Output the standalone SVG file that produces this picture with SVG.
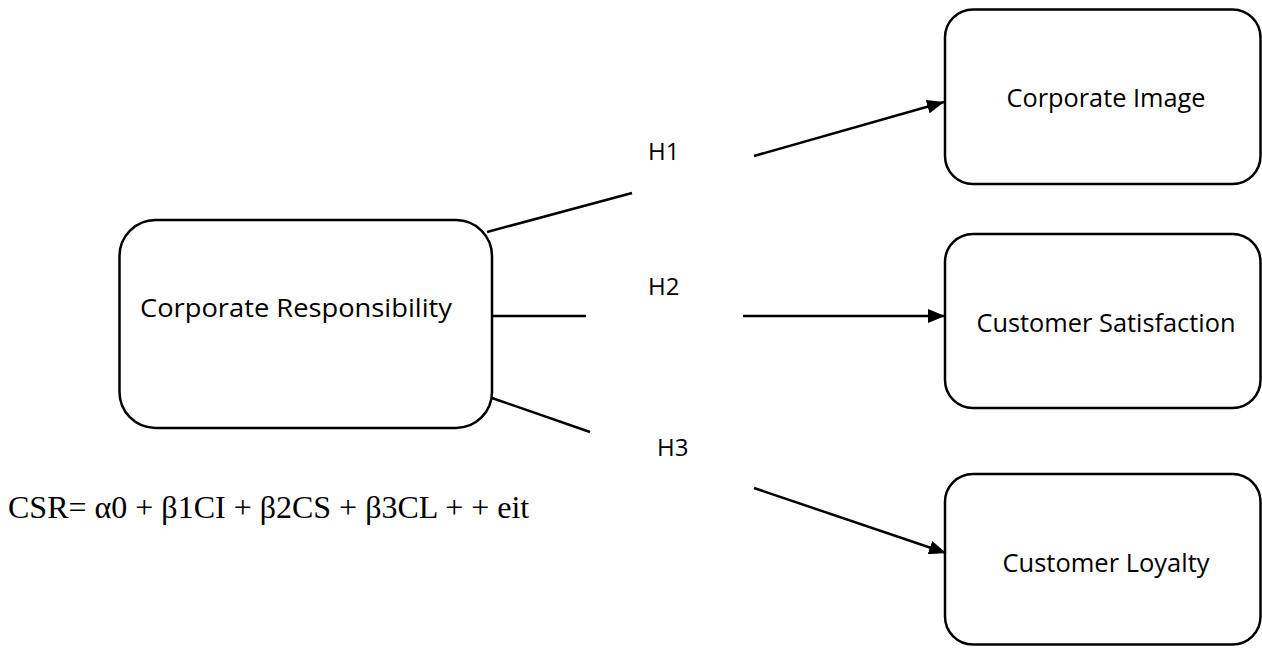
<svg xmlns="http://www.w3.org/2000/svg" width="1262" height="648" viewBox="0 0 1262 648">
<defs>
<style>
.box{fill:#fff;stroke:#000;stroke-width:2.5}
.lbl{font-family:"Open Sans","Liberation Sans",sans-serif;font-size:25px;fill:#000;text-anchor:middle}
.h{font-family:"Open Sans","Liberation Sans",sans-serif;font-size:24px;fill:#000}
.ln{stroke:#000;stroke-width:2.5;fill:none}
.eq{font-family:"Liberation Serif","Times New Roman",serif;font-size:32px;fill:#000}
</style>
<marker id="arr" markerUnits="userSpaceOnUse" markerWidth="18" markerHeight="14" refX="17" refY="7" orient="auto">
<path d="M0,0 L17,7 L0,14 Z" fill="#000"/>
</marker>
</defs>
<rect width="1262" height="648" fill="#fff"/>
<g id="node-cr">
<rect class="box" x="119.5" y="220" width="372.5" height="208" rx="36" ry="36"/>
<text class="lbl" x="296" y="317" textLength="312" lengthAdjust="spacingAndGlyphs">Corporate Responsibility</text>
</g>
<g id="node-ci">
<rect class="box" x="945" y="9.5" width="315.5" height="174.5" rx="28" ry="28"/>
<text class="lbl" x="1106" y="107" textLength="199" lengthAdjust="spacingAndGlyphs">Corporate Image</text>
</g>
<g id="node-cs">
<rect class="box" x="945" y="234" width="315.5" height="174" rx="28" ry="28"/>
<text class="lbl" x="1106" y="332" textLength="259" lengthAdjust="spacingAndGlyphs">Customer Satisfaction</text>
</g>
<g id="node-cl">
<rect class="box" x="945" y="474" width="315.5" height="170.5" rx="28" ry="28"/>
<text class="lbl" x="1106" y="572" textLength="207" lengthAdjust="spacingAndGlyphs">Customer Loyalty</text>
</g>
<g id="connectors">
<line class="ln" x1="487" y1="232" x2="632" y2="193"/>
<line class="ln" x1="754" y1="156" x2="944" y2="102" marker-end="url(#arr)"/>
<line class="ln" x1="492" y1="316" x2="586" y2="316"/>
<line class="ln" x1="743" y1="316" x2="945" y2="316" marker-end="url(#arr)"/>
<line class="ln" x1="492" y1="398" x2="590" y2="432"/>
<line class="ln" x1="754" y1="488" x2="946" y2="553" marker-end="url(#arr)"/>
</g>
<g id="labels">
<text class="h" x="648" y="160">H1</text>
<text class="h" x="648" y="295">H2</text>
<text class="h" x="657" y="456">H3</text>
<text class="eq" x="8" y="518">CSR= α0 + β1CI + β2CS + β3CL + + eit</text>
</g>
</svg>
